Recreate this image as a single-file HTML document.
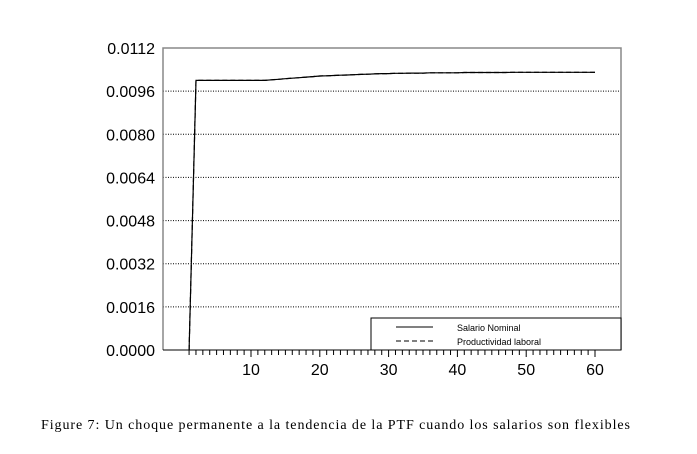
<!DOCTYPE html>
<html><head><meta charset="utf-8"><style>
body{margin:0;background:#fff;}
svg{display:block;font-family:"Liberation Sans",sans-serif;}
</style></head><body>
<svg id="c" width="697" height="454"></svg>
<script>
const periods=[];for(let i=1;i<=60;i++)periods.push(i);
const salario=[0,0.0100,0.0100,0.0100,0.0100,0.0100,0.0100,0.0100,0.0100,0.0100,0.0100,0.0100,0.01002,0.01004,0.01006,0.01008,0.0101,0.01012,0.01014,0.01016,0.01017,0.01018,0.01019,0.0102,0.01021,0.01022,0.01023,0.01024,0.01025,0.01025,0.01026,0.01026,0.01027,0.01027,0.01027,0.01028,0.01028,0.01028,0.01028,0.01028,0.01029,0.01029,0.01029,0.01029,0.01029,0.01029,0.01029,0.0103,0.0103,0.0103,0.0103,0.0103,0.0103,0.0103,0.0103,0.0103,0.0103,0.0103,0.0103,0.0103];
const productividad=salario.slice();
const yTicks=[0,0.0016,0.0032,0.0048,0.0064,0.0080,0.0096,0.0112];
const yLabels=["0.0000","0.0016","0.0032","0.0048","0.0064","0.0080","0.0096","0.0112"];
const xLabels=[10,20,30,40,50,60];
const L=163,R=621,T=48,B=350;
const X=v=>251+(v-10)*6.88;
const Y=v=>B-(v/0.0112)*(B-T);
const svg=document.getElementById('c');
const NS='http://www.w3.org/2000/svg';
function el(tag,attrs,parent){const e=document.createElementNS(NS,tag);for(const k in attrs)e.setAttribute(k,attrs[k]);(parent||svg).appendChild(e);return e;}
yTicks.forEach((v,i)=>{
  if(i>0&&i<yTicks.length-1){const g=el('line',{x1:L,x2:R,y1:Y(v),y2:Y(v),stroke:'#000','stroke-dasharray':'1,1.5','stroke-width':1});
  
  }
  const t=el('text',{x:L-8,y:Y(v)+6,'text-anchor':'end','font-size':16,fill:'#000'});t.textContent=yLabels[i];
  
  
});
const fr=el('path',{d:`M${L},${B}V${T}H${R}V${B}`,fill:'none',stroke:'#888','stroke-width':1.5});


const xa=el('line',{x1:L,x2:R,y1:B,y2:B,stroke:'#000','stroke-width':1});


periods.forEach(p=>{const major=p%10===0;const tk=el('line',{x1:X(p),x2:X(p),y1:B,y2:B+(major?7:5),stroke:'#000','stroke-width':1});
  
  });
xLabels.forEach(v=>{const t=el('text',{x:X(v),y:B+25,'text-anchor':'middle','font-size':16});t.textContent=v;
  
  });
function line(arr,dash,name){const d=arr.map((v,i)=>(i?'L':'M')+X(periods[i]).toFixed(1)+','+Y(v).toFixed(1)).join('');
  const p=el('path',{d,fill:'none',stroke:'#000','stroke-width':1.2,'stroke-dasharray':dash});
  
  }
line(productividad,'5,3','productividad-line');
line(salario,'none','salario-line');
const lg=el('g',{});


el('rect',{x:371,y:318,width:250,height:32,fill:'#fff',stroke:'#000','stroke-width':1},lg);
el('line',{x1:396,x2:433,y1:327,y2:327,stroke:'#000'},lg);
el('line',{x1:396,x2:433,y1:341,y2:341,stroke:'#000','stroke-dasharray':'5,3'},lg);
const t1=el('text',{x:457,y:331,'font-size':9},lg);t1.textContent='Salario Nominal';


const t2=el('text',{x:457,y:345,'font-size':9},lg);t2.textContent='Productividad laboral';


const cap=el('text',{x:41,y:429,'font-size':14,'font-family':'"Liberation Serif",serif',textLength:589,lengthAdjust:'spacing'});
cap.textContent='Figure 7:  Un choque permanente a la tendencia de la PTF cuando los salarios son flexibles';


</script>
</body></html>
